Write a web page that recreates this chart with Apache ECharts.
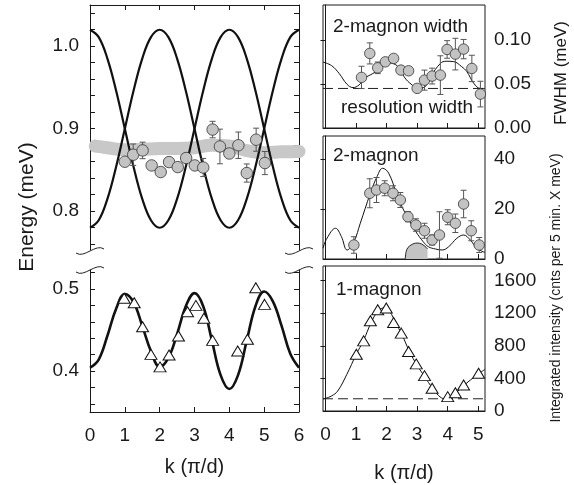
<!DOCTYPE html>
<html>
<head>
<meta charset="utf-8">
<script src="https://cdn.jsdelivr.net/npm/echarts@6/dist/echarts.min.js"></script>
<style>
html, body { margin: 0; padding: 0; background: #fff; }
#chart { width: 574px; height: 485px; }
</style>
</head>
<body>
<div id="chart"></div>
<script>
// dispersion curves, left panel
const kCurve = [0, 0.25, 0.5, 0.75, 1, 1.25, 1.5, 1.75, 2, 2.25, 2.5, 2.75, 3, 3.25, 3.5, 3.75, 4, 4.25, 4.5, 4.75, 5, 5.25, 5.5, 5.75, 6];
const eBranchA = [1.020, 1.011, 0.985, 0.946, 0.900, 0.854, 0.815, 0.789, 0.780, 0.789, 0.815, 0.854, 0.900, 0.946, 0.985, 1.011, 1.020, 1.011, 0.985, 0.946, 0.900, 0.854, 0.815, 0.789, 0.780];
const eBranchB = [0.780, 0.789, 0.815, 0.854, 0.900, 0.946, 0.985, 1.011, 1.020, 1.011, 0.985, 0.946, 0.900, 0.854, 0.815, 0.789, 0.780, 0.789, 0.815, 0.854, 0.900, 0.946, 0.985, 1.011, 1.020];
const eOneFit = [0.404, 0.414, 0.443, 0.476, 0.494, 0.484, 0.455, 0.424, 0.405, 0.416, 0.445, 0.479, 0.495, 0.479, 0.437, 0.395, 0.378, 0.395, 0.437, 0.479, 0.497, 0.485, 0.455, 0.421, 0.404];

// grey band
const kBand = [0.15, 0.5, 1, 1.5, 2, 2.5, 3, 3.5, 4, 4.5, 5, 5.5, 6];
const eBand = [0.879, 0.877, 0.8745, 0.875, 0.876, 0.876, 0.877, 0.880, 0.879, 0.8735, 0.871, 0.872, 0.8725];

// 2-magnon energies (circles)
const kTwoE = [1.00, 1.24, 1.51, 1.77, 2.03, 2.27, 2.52, 2.76, 3.01, 3.25, 3.52, 3.73, 4.00, 4.26, 4.50, 4.77, 5.02];
const eTwo = [0.860, 0.8685, 0.8737, 0.8555, 0.8475, 0.8596, 0.8535, 0.8645, 0.8555, 0.853, 0.899, 0.8785, 0.870, 0.880, 0.8463, 0.8867, 0.8584];
const eTwoErr = [0.004, 0.013, 0.010, 0.004, 0.004, 0.004, 0.004, 0.005, 0.005, 0.011, 0.010, 0.021, 0.005, 0.016, 0.011, 0.014, 0.014];

// 1-magnon energies (triangles)
const kOneE = [0.98, 1.27, 1.51, 1.75, 2.01, 2.27, 2.54, 2.80, 3.04, 3.27, 3.52, 4.24, 4.52, 4.76, 5.01];
const eOne = [0.4887, 0.4833, 0.454, 0.4203, 0.405, 0.4195, 0.4427, 0.4723, 0.480, 0.4643, 0.4374, 0.4244, 0.4387, 0.5016, 0.4813];

// 2-magnon width
const kWid = [1.18, 1.45, 1.71, 1.96, 2.23, 2.47, 2.72, 3.00, 3.24, 3.49, 3.76, 3.98, 4.25, 4.52, 4.79, 5.07];
const wid = [0.0576, 0.0849, 0.0685, 0.0753, 0.0792, 0.0659, 0.0651, 0.0451, 0.0545, 0.0591, 0.0602, 0.0894, 0.0841, 0.0898, 0.0678, 0.0386];
const widErr = [0.0127, 0.012, 0.0066, 0.004, 0.004, 0.004, 0.004, 0.003, 0.0114, 0.009, 0.022, 0.010, 0.018, 0.011, 0.015, 0.0146];
const kWidFit = [-0.08, 0.2, 0.45, 0.7, 0.9, 1.1, 1.3, 1.55, 1.8, 2.05, 2.3, 2.45, 2.6, 2.8, 3.0, 3.2, 3.43, 3.76, 3.95, 4.2, 4.45, 4.63, 4.85, 5.07, 5.22];
const widFit = [0.075, 0.071, 0.062, 0.050, 0.046, 0.049, 0.057, 0.062, 0.068, 0.074, 0.072, 0.066, 0.057, 0.050, 0.046, 0.046, 0.058, 0.0735, 0.076, 0.0755, 0.070, 0.064, 0.051, 0.045, 0.045];
const resolutionWidth = 0.045;

// 2-magnon intensity
const kI2 = [0.93, 1.45, 1.67, 1.94, 2.21, 2.45, 2.70, 2.96, 3.24, 3.49, 3.73, 4.00, 4.25, 4.52, 4.77, 5.03];
const i2 = [5.6, 26.3, 27.6, 28.3, 26.3, 23.6, 16.9, 13.6, 11.3, 7.6, 9.6, 16.7, 14.3, 22, 11.3, 5.6];
const i2Err = [3.3, 5.8, 5, 3, 3, 3, 2, 2.5, 3, 2, 9.3, 3, 3.7, 5.5, 4, 3];
const kI2Fit = [-0.08, 0.05, 0.33, 0.52, 0.71, 0.93, 1.14, 1.47, 1.69, 1.87, 2.07, 2.34, 2.45, 2.7, 2.96, 3.2, 3.37, 3.6, 3.82, 4.03, 4.3, 4.52, 4.74, 4.95, 5.16, 5.22];
const i2Fit = [4.3, 8.3, 12.3, 9.0, 3.6, 6.9, 14.3, 26.3, 33.0, 36.3, 34.3, 25.6, 22.3, 16.3, 10.9, 6.9, 4.9, 4.0, 3.6, 4.9, 8.3, 9.6, 7.6, 4.3, 2.9, 2.7];
const kHump = [2.61, 2.64, 2.7, 2.8, 2.9, 3.0, 3.15, 3.3, 3.34];
const hump = [0, 3.0, 4.6, 5.6, 6.2, 6.4, 6.0, 4.6, 4.0];

// 1-magnon intensity
const kI1 = [1.01, 1.25, 1.47, 1.71, 1.99, 2.23, 2.48, 2.72, 2.97, 3.24, 3.49, 4.00, 4.25, 4.52, 5.01];
const i1 = [697, 861, 1108, 1243, 1264, 1086, 956, 730, 578, 434, 279, 176, 225, 320, 464];
const kI1Fit = [-0.08, 0.0, 0.2, 0.4, 0.7, 1.0, 1.25, 1.5, 1.7, 1.9, 2.1, 2.3, 2.5, 2.75, 3.0, 3.25, 3.5, 3.7, 3.9, 4.05, 4.25, 4.5, 5.0, 5.22];
const i1Fit = [150, 155, 185, 245, 450, 690, 870, 1090, 1215, 1265, 1220, 1080, 940, 730, 560, 420, 280, 190, 150, 160, 215, 305, 455, 510];
const i1Background = 150;

// ticks and labels
const energyTicksTop = [0.76, 0.78, 0.80, 0.82, 0.84, 0.86, 0.88, 0.90, 0.92, 0.94, 0.96, 0.98, 1.00, 1.02, 1.04];
const energyLabelsTop = [0.8, 0.9, 1.0];
const energyTicksBottom = [0.36, 0.38, 0.40, 0.42, 0.44, 0.46, 0.48, 0.50, 0.52];
const energyLabelsBottom = [0.4, 0.5];
const kTicks = [1, 2, 3, 4, 5];
const kLabelsLeft = [0, 1, 2, 3, 4, 5, 6];
const kLabelsRight = [0, 1, 2, 3, 4, 5];
const widthLabels = [0, 0.05, 0.1];
const int2Labels = [0, 20, 40];
const int1Labels = [0, 400, 800, 1200, 1600];

const FONT = 'Liberation Sans';
const INK = '#1a1a1a';
const pairs = (xs, ys) => xs.map((x, i) => [x, ys[i]]);

const chart = echarts.init(document.getElementById('chart'), null, { renderer: 'canvas' });

function xAxis(grid, min, max, opts) {
  return Object.assign({
    type: 'value', gridIndex: grid, min: min, max: max,
    axisLine: { show: true, lineStyle: { color: INK, width: 1 } },
    axisTick: { show: true, inside: true, length: 5, customValues: kTicks, lineStyle: { color: INK } },
    axisLabel: { show: false },
    splitLine: { show: false }
  }, opts || {});
}

function yAxis(grid, min, max, pos, ticks, labels, digits, margin) {
  return {
    type: 'value', gridIndex: grid, min: min, max: max, position: pos,
    axisLine: { show: true, lineStyle: { color: INK, width: 1 } },
    axisTick: { show: true, inside: true, length: 5, customValues: ticks, lineStyle: { color: INK } },
    axisLabel: labels ? {
      show: true, customValues: labels, margin: margin, fontSize: 19, fontFamily: FONT, color: INK,
      formatter: v => v.toFixed(digits)
    } : { show: false },
    splitLine: { show: false }
  };
}

function errorBars(xi, yi, ks, vs, errs, cap) {
  return {
    type: 'custom', xAxisIndex: xi, yAxisIndex: yi, z: 3, silent: true,
    encode: { x: 0, y: 1 },
    data: ks.map((k, i) => [k, vs[i], errs[i]]),
    renderItem: (params, api) => {
      const k = api.value(0), v = api.value(1), e = api.value(2);
      const a = api.coord([k, v + e]), b = api.coord([k, v - e]);
      const style = { stroke: '#555', lineWidth: 1 };
      return {
        type: 'group', children: [
          { type: 'line', shape: { x1: a[0], y1: a[1], x2: b[0], y2: b[1] }, style: style },
          { type: 'line', shape: { x1: a[0] - cap, y1: a[1], x2: a[0] + cap, y2: a[1] }, style: style },
          { type: 'line', shape: { x1: b[0] - cap, y1: b[1], x2: b[0] + cap, y2: b[1] }, style: style }
        ]
      };
    }
  };
}

function circles(xi, yi, ks, vs, size) {
  return {
    type: 'scatter', xAxisIndex: xi, yAxisIndex: yi, z: 4, symbol: 'circle', symbolSize: size,
    itemStyle: { color: '#c3c3c3', borderColor: '#333', borderWidth: 0.8, opacity: 1 },
    data: pairs(ks, vs)
  };
}

function triangles(xi, yi, ks, vs) {
  return {
    type: 'scatter', xAxisIndex: xi, yAxisIndex: yi, z: 4, symbol: 'triangle', symbolSize: [12, 10],
    itemStyle: { color: '#fff', borderColor: '#111', borderWidth: 1, opacity: 1 },
    data: pairs(ks, vs)
  };
}

function curve(xi, yi, ks, vs, width, extra) {
  return Object.assign({
    type: 'line', xAxisIndex: xi, yAxisIndex: yi, z: 2, smooth: 0.4, showSymbol: false, symbol: 'none',
    lineStyle: { color: '#111', width: width },
    data: pairs(ks, vs)
  }, extra || {});
}

function breakMark(x, y) {
  return {
    type: 'bezierCurve', silent: true,
    shape: { x1: x - 14, y1: y + 2, cpx1: x - 6, cpy1: y + 8, cpx2: x + 6, cpy2: y - 8, x2: x + 14, y2: y - 2 },
    style: { stroke: '#222', lineWidth: 1, fill: null }
  };
}

function label(text, x, y, size, rot) {
  return {
    type: 'text', x: x, y: y, rotation: rot || 0, silent: true,
    style: {
      text: text, fontSize: size, fontFamily: FONT, fill: INK,
      align: 'center', verticalAlign: 'middle', textAlign: 'center', textVerticalAlign: 'middle'
    }
  };
}

function leftText(text, x, y, size) {
  return {
    type: 'text', x: x, y: y, silent: true,
    style: {
      text: text, fontSize: size, fontFamily: FONT, fill: INK,
      align: 'left', verticalAlign: 'middle', textAlign: 'left', textVerticalAlign: 'middle'
    }
  };
}

const frame = { show: true, borderColor: INK, borderWidth: 1, backgroundColor: 'transparent' };

chart.setOption({
  animation: false,
  backgroundColor: '#fff',
  grid: [
    { left: 90, top: 5, width: 209, height: 245 },
    { left: 90, top: 270, width: 209, height: 142 },
    Object.assign({ left: 323, top: 5, width: 162, height: 123 }, frame),
    Object.assign({ left: 323, top: 136, width: 162, height: 123 }, frame),
    Object.assign({ left: 323, top: 266, width: 162, height: 145 }, frame)
  ],
  xAxis: [
    xAxis(0, 0, 6, { position: 'top' }),
    xAxis(1, 0, 6, {
      position: 'bottom',
      axisLabel: { show: true, customValues: kLabelsLeft, margin: 14, fontSize: 19, fontFamily: FONT, color: INK },
      name: 'k (\u03c0/d)', nameLocation: 'middle', nameGap: 45,
      nameTextStyle: { fontSize: 20, fontFamily: FONT, color: INK }
    }),
    xAxis(2, -0.08, 5.22, { position: 'bottom' }),
    xAxis(3, -0.08, 5.22, { position: 'bottom' }),
    xAxis(4, -0.08, 5.22, {
      position: 'bottom',
      axisLabel: { show: true, customValues: kLabelsRight, margin: 14, fontSize: 19, fontFamily: FONT, color: INK },
      name: 'k (\u03c0/d)', nameLocation: 'middle', nameGap: 52,
      nameTextStyle: { fontSize: 20, fontFamily: FONT, color: INK }
    })
  ],
  yAxis: [
    yAxis(0, 0.753, 1.05, 'left', energyTicksTop, energyLabelsTop, 1, 11),
    yAxis(0, 0.753, 1.05, 'right', energyTicksTop, null),
    yAxis(1, 0.35, 0.5232, 'left', energyTicksBottom, energyLabelsBottom, 1, 11),
    yAxis(1, 0.35, 0.5232, 'right', energyTicksBottom, null),
    yAxis(2, 0, 0.14, 'right', [0.05, 0.1], widthLabels, 2, 9),
    yAxis(3, 0, 49.2, 'right', [20, 40], int2Labels, 0, 9),
    yAxis(4, 0, 1780, 'right', [400, 800, 1200, 1600], int1Labels, 0, 9)
  ],
  series: [
    // left upper panel
    curve(0, 0, kBand, eBand, 13, { z: 1, clip: false, smooth: 0.5, lineStyle: { color: '#c8c8c8', width: 13, cap: 'round', join: 'round' } }),
    curve(0, 0, kCurve, eBranchA, 2.2),
    curve(0, 0, kCurve, eBranchB, 2.2),
    errorBars(0, 0, kTwoE, eTwo, eTwoErr, 3),
    circles(0, 0, kTwoE, eTwo, 11.5),
    // left lower panel
    curve(1, 2, kCurve, eOneFit, 2.6),
    triangles(1, 2, kOneE, eOne),
    // width panel
    curve(2, 4, [-0.08, 5.22], [resolutionWidth, resolutionWidth], 1, { smooth: false, lineStyle: { color: '#222', width: 1, type: [10, 5] } }),
    curve(2, 4, kWidFit, widFit, 1),
    errorBars(2, 4, kWid, wid, widErr, 3),
    circles(2, 4, kWid, wid, 10.5),
    // 2-magnon intensity
    curve(3, 5, kHump, hump, 1, { z: 1, smooth: 0.3, lineStyle: { color: '#222', width: 1 }, areaStyle: { color: '#c3c3c3', opacity: 1 } }),
    curve(3, 5, kI2Fit, i2Fit, 1),
    errorBars(3, 5, kI2, i2, i2Err, 3),
    circles(3, 5, kI2, i2, 10.5),
    // 1-magnon intensity
    curve(4, 6, [-0.08, 5.22], [i1Background, i1Background], 1, { smooth: false, lineStyle: { color: '#222', width: 1, type: [10, 5] } }),
    curve(4, 6, kI1Fit, i1Fit, 1),
    triangles(4, 6, kI1, i1)
  ],
  graphic: [
    breakMark(90, 251), breakMark(90, 270),
    breakMark(299, 251), breakMark(299, 270),
    label('Energy (meV)', 27, 207, 21, Math.PI / 2),
    label('FWHM (meV)', 561, 73, 17, Math.PI / 2),
    label('Integrated intensity (cnts per 5 min. X meV)', 556, 288, 14, Math.PI / 2),
    leftText('2-magnon width', 333, 27, 19),
    leftText('resolution width', 341, 108, 19),
    leftText('2-magnon', 333, 156, 19),
    leftText('1-magnon', 336, 290, 19)
  ]
});
</script>
</body>
</html>
